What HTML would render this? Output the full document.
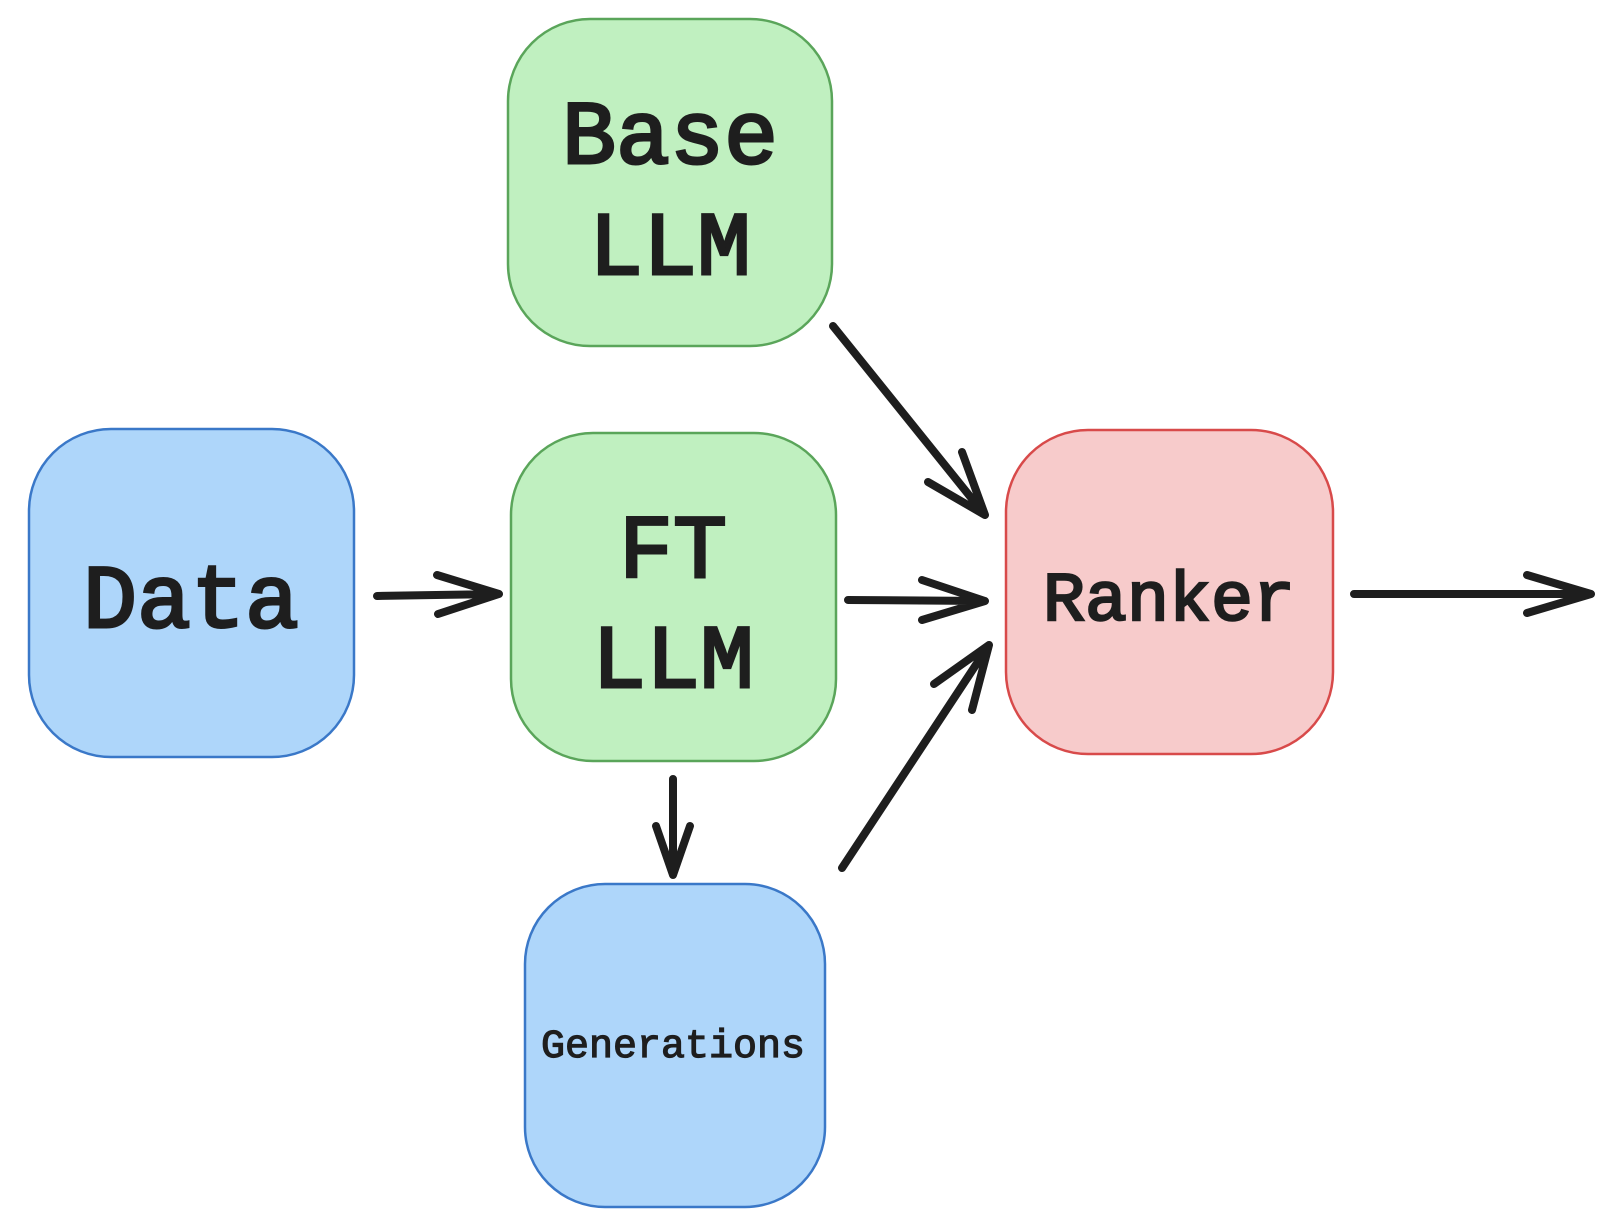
<!DOCTYPE html>
<html><head><meta charset="utf-8"><style>html,body{margin:0;padding:0;background:#fff}svg{display:block}</style></head>
<body>
<svg width="1606" height="1220" viewBox="0 0 1606 1220" xmlns="http://www.w3.org/2000/svg" font-family="'Liberation Mono', monospace" fill="#1e1e1e">
<g stroke-width="2.5">
<rect x="508" y="19" width="324" height="327" rx="82" fill="#c0f0c0" stroke="#5aa55a"/>
<rect x="29" y="429" width="325" height="328" rx="82" fill="#aed6fa" stroke="#3a78c8"/>
<rect x="511" y="433" width="325" height="328" rx="82" fill="#c0f0c0" stroke="#5aa55a"/>
<rect x="1006" y="430" width="327" height="324" rx="82" fill="#f7cbcb" stroke="#d84a4a"/>
<rect x="525" y="884" width="300" height="323" rx="80" fill="#aed6fa" stroke="#3a78c8"/>
</g>
<g text-anchor="middle" fill="#1e1e1e" stroke="#1e1e1e">
<text x="670" y="163" font-size="90" stroke-width="3">Base</text>
<text x="670" y="274" font-size="90" stroke-width="3">LLM</text>
<text x="191" y="627" font-size="90" stroke-width="3">Data</text>
<text x="673" y="577" font-size="90" stroke-width="3">FT</text>
<text x="673" y="687" font-size="90" stroke-width="3">LLM</text>
<text x="1169" y="620" font-size="70" stroke-width="2.5">Ranker</text>
<text x="673" y="1057" font-size="40" stroke-width="1.2">Generations</text>
</g>
<g stroke="#1e1e1e" stroke-width="8" stroke-linecap="round" stroke-linejoin="round" fill="none">
<path d="M377 596 L499 594 M437 575 L499 594 L438 614"/>
<path d="M848 600 L985 601 M922 580 L985 601 L922 620"/>
<path d="M833 326 L985 515 M962 452 L985 515 L928 482"/>
<path d="M842 868 L989 645 M934 684 L989 645 L972 710"/>
<path d="M673 779 L673 875 M656 826 L673 875 L690 826"/>
<path d="M1354 594 L1591 594 M1527 575 L1591 594 L1527 613"/>
</g>
</svg>
</body></html>
